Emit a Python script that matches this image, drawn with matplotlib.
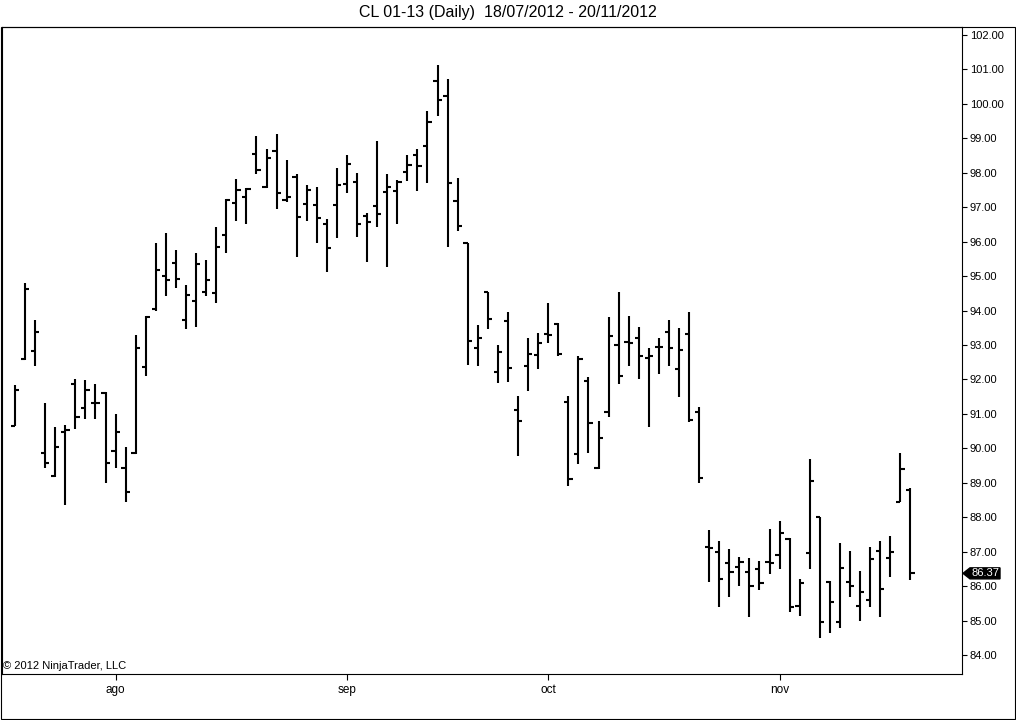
import numpy as np
import pandas as pd
import matplotlib
matplotlib.use("Agg")
import matplotlib.pyplot as plt
import matplotlib.transforms as mtransforms
from matplotlib.patches import Polygon, Rectangle

plt.rcParams['font.family'] = ['Liberation Sans', 'DejaVu Sans']

# daily sessions 18/07/2012 - 20/11/2012
dates = pd.bdate_range("2012-07-18", "2012-11-20")

opens = [90.65, 92.60, 92.83, 89.85, 89.20, 90.48, 91.86, 91.16, 91.33, 91.62,
         89.93, 89.42, 89.86, 92.37, 94.04, 95.00, 95.39, 93.74, 94.29, 94.55,
         94.50, 96.19, 97.13, 97.30, 98.54, 97.60, 98.64, 97.21, 97.89, 97.09,
         97.06, 96.51, 97.06, 97.66, 97.74, 96.75, 97.04, 97.45, 97.48, 98.03,
         98.52, 98.79, 100.67, 100.24, 97.19, 95.95, 92.90, 94.55, 92.23, 93.70,
         91.11, 92.39, 92.71, 93.32, 93.60, 91.35, 89.83, 91.96, 89.42, 91.06,
         93.00, 93.10, 93.19, 92.63, 92.95, 93.37, 92.30, 93.31, 91.04, 87.14,
         87.00, 86.68, 86.54, 86.42, 86.49, 86.71, 86.90, 87.36, 85.43, 86.97,
         88.00, 86.11, 84.97, 86.13, 85.43, 85.59, 87.03, 86.83, 88.45, 88.80]
highs = [91.85, 94.80, 93.72, 91.33, 90.63, 90.68, 92.00, 91.98, 91.86, 91.64,
         91.01, 90.04, 93.29, 93.85, 95.95, 96.24, 95.76, 94.74, 95.66, 95.47,
         96.43, 97.23, 97.82, 97.55, 99.08, 98.69, 99.13, 98.37, 97.96, 97.64,
         97.58, 96.65, 98.13, 98.52, 97.98, 96.84, 98.93, 97.96, 97.79, 98.52,
         98.68, 99.79, 101.13, 100.71, 97.84, 95.97, 93.57, 94.55, 93.00, 93.95,
         91.52, 93.21, 93.36, 94.23, 93.63, 91.52, 92.68, 92.08, 90.79, 93.80,
         94.53, 93.84, 93.51, 92.90, 93.19, 93.72, 93.48, 93.95, 91.19, 87.63,
         87.31, 87.08, 86.84, 86.81, 86.73, 87.65, 87.89, 87.39, 86.22, 89.68,
         88.00, 86.16, 87.24, 87.02, 86.44, 87.13, 87.31, 87.45, 89.85, 88.84]
lows = [90.65, 92.55, 92.40, 89.44, 89.18, 88.35, 90.55, 90.84, 90.84, 89.00,
        89.42, 88.43, 89.83, 92.10, 94.00, 94.41, 94.65, 93.45, 93.53, 94.41,
        94.23, 95.66, 96.61, 96.50, 97.96, 97.57, 96.94, 97.16, 95.56, 96.61,
        95.95, 95.13, 96.10, 97.42, 96.14, 95.42, 96.43, 95.25, 96.50, 97.77,
        97.48, 97.69, 99.66, 95.84, 96.32, 92.42, 92.38, 93.45, 91.90, 91.93,
        89.79, 91.67, 92.29, 93.05, 92.68, 88.90, 89.54, 89.86, 89.39, 90.92,
        91.88, 92.40, 92.00, 90.63, 92.15, 92.40, 91.50, 90.75, 89.00, 86.13,
        85.38, 85.67, 85.99, 85.09, 85.89, 86.34, 86.51, 85.24, 85.14, 86.51,
        84.48, 84.65, 84.77, 85.69, 85.00, 85.38, 85.11, 86.27, 88.45, 86.19]
closes = [91.70, 94.62, 93.38, 89.56, 90.04, 90.53, 90.92, 91.69, 91.33, 89.58,
          90.48, 88.74, 92.92, 93.82, 95.18, 94.88, 94.93, 94.45, 95.34, 94.88,
          95.85, 97.21, 97.50, 97.52, 98.08, 98.44, 97.42, 97.30, 96.73, 97.50,
          96.70, 95.81, 97.64, 98.25, 96.51, 96.58, 96.79, 97.60, 97.72, 98.23,
          98.20, 99.48, 100.11, 97.71, 96.46, 93.12, 93.21, 93.75, 92.79, 92.32,
          90.79, 92.74, 93.05, 93.29, 92.74, 89.10, 92.58, 90.74, 90.31, 93.27,
          92.11, 93.05, 92.69, 92.69, 92.95, 92.92, 92.85, 90.82, 89.15, 87.12,
          86.22, 86.42, 86.71, 85.99, 86.10, 86.68, 87.53, 85.40, 86.10, 89.06,
          84.97, 85.55, 86.53, 86.01, 85.84, 86.78, 85.92, 87.00, 89.40, 86.37]

month_names = {8: "ago", 9: "sep", 10: "oct", 11: "nov"}
title = "CL 01-13 (Daily)  18/07/2012 - 20/11/2012"

W, H = 1016, 720
fig = plt.figure(figsize=(W / 100, H / 100), dpi=100)
ax = fig.add_axes([2 / W, (H - 674) / H, 960 / W, 647 / H])

x = np.arange(len(dates))
tick = 0.42
lw = 1.5
ax.vlines(x, lows, highs, colors="black", linewidth=lw)
ax.hlines(opens, x - tick, x, colors="black", linewidth=lw)
ax.hlines(closes, x, x + tick, colors="black", linewidth=lw)

ax.set_xlim(-1.292, 94.13)
ax.set_ylim(83.448, 102.232)

# first session of each month
month_pos = [i for i in range(1, len(dates)) if dates[i].month != dates[i - 1].month]
ax.set_xticks(month_pos)
ax.set_xticklabels([month_names[dates[i].month] for i in month_pos], fontsize=8.5)
ax.tick_params(axis="x", direction="out", length=4, width=0.8, pad=3)

ax.yaxis.tick_right()
ax.set_yticks(np.arange(84, 103, 1))
ax.set_yticklabels([f"{v:.2f}" for v in np.arange(84, 103, 1)], fontsize=8)
ax.tick_params(axis="y", direction="out", length=3.5, width=0.8, pad=2)

for s in ax.spines.values():
    s.set_linewidth(0.8)
    s.set_color("black")

ax.text(0.001, 0.004, "\u00a9 2012 NinjaTrader, LLC", transform=ax.transAxes,
        fontsize=8, ha="left", va="bottom")

# last price marker
last = closes[-1]
blend = mtransforms.blended_transform_factory(fig.transFigure, ax.transData)
hh = 0.16
pts = [(963 / W, last), (970 / W, last + hh), (1000 / W, last + hh),
       (1000 / W, last - hh), (970 / W, last - hh)]
ax.add_patch(Polygon(pts, closed=True, facecolor="black", edgecolor="black",
                     transform=blend, clip_on=False))
ax.text(985 / W, last, f"{last:.2f}", transform=blend, color="white",
        fontsize=8, ha="center", va="center", clip_on=False)

# outer frame and title
fig.add_artist(Rectangle((1 / W, 1 / H), 1014 / W, 692 / H, transform=fig.transFigure,
                         fill=False, edgecolor="black", linewidth=0.8))
fig.text(0.5, 1 - 13 / H, title, ha="center", va="center", fontsize=11.5)

fig.savefig("out.png", dpi=100)
